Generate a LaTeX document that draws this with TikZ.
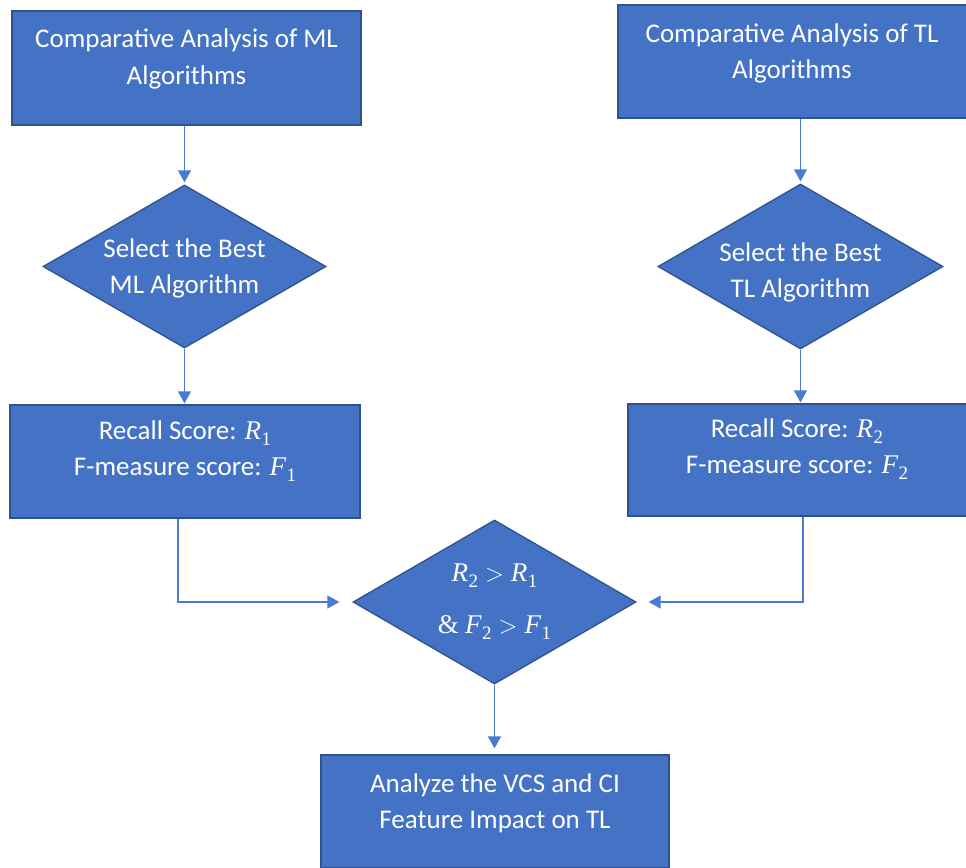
\documentclass[tikz,border=0pt]{standalone}
\usepackage{fontspec}
\setmainfont{Carlito}
\newfontfamily\mserif{Liberation Serif}
\usetikzlibrary{shapes.geometric,arrows.meta}

\definecolor{boxfill}{HTML}{4472C4}
\definecolor{boxline}{HTML}{2F528F}
\definecolor{connline}{HTML}{4A7BD0}

% italic variable with a lowered upright index
\newcommand{\mvar}[2]{{\mserif\itshape #1}\kern0.5pt\raisebox{-0.22em}{\mserif\fontsize{19}{19}\selectfont #2}}
\newcommand{\mgt}{\kern7pt$>$\kern7pt}

\begin{document}
\begin{tikzpicture}[x=1pt,y=-1pt,
  procbox/.style={rectangle, draw=boxline, fill=boxfill, line width=1.3pt, inner sep=0pt},
  decision/.style={diamond, draw=boxline, fill=boxfill, line width=1.3pt, inner sep=0pt},
  txt/.style={text=white, align=center, inner sep=0pt, font=\fontsize{27}{36.5}\selectfont},
  conn/.style={draw=connline, line width=1.3pt, -{Triangle[length=12pt,width=13pt]}}]

\useasboundingbox (0,0) rectangle (966,867);

% process boxes
\node[procbox, minimum width=349pt, minimum height=114pt] (b1) at (186.5,68) {};
\node[procbox, minimum width=350pt, minimum height=113pt] (b2) at (793,61.5) {};
\node[procbox, minimum width=350pt, minimum height=113pt] (b3) at (185,461.5) {};
\node[procbox, minimum width=340pt, minimum height=112pt] (b4) at (798,460) {};
\node[procbox, minimum width=348pt, minimum height=113pt] (b5) at (495,811.5) {};

% decisions
\node[decision, minimum width=283pt, minimum height=163pt] (d1) at (184.5,266.5) {};
\node[decision, minimum width=285pt, minimum height=165pt] (d2) at (800.5,266.5) {};
\node[decision, minimum width=283pt, minimum height=164pt] (d3) at (494.5,602) {};

% texts
\node[txt] (t1) at (186.5,59) {Comparative Analysis of ML\\Algorithms};
\node[txt] (t2) at (792,53.5) {Comparative Analysis of TL\\Algorithms};
\node[txt] (t3) at (184.5,268.5) {Select the Best\\ML Algorithm};
\node[txt] (t4) at (800.5,272.5) {Select the Best\\TL Algorithm};
\node[txt] (t5) at (185,451) {Recall Score: \mvar{R}{1}\\F-measure score: \mvar{F}{1}};
\node[txt] (t6) at (797,449) {Recall Score: \mvar{R}{2}\\F-measure score: \mvar{F}{2}};
\node[txt, font=\fontsize{27}{52}\selectfont] (t7) at (494.5,602)
  {\mvar{R}{2}\mgt\mvar{R}{1}\\{\mserif\&} \mvar{F}{2}\mgt\mvar{F}{1}};
\node[txt] (t8) at (495,803.5) {Analyze the VCS and CI\\Feature Impact on TL};

% connectors
\draw[conn, shorten >=2pt] (b1.south -| d1.north) -- (d1.north);
\draw[conn, shorten >=2pt] (b2.south -| d2.north) -- (d2.north);
\draw[conn, shorten >=1pt] (d1.south) -- (d1.south |- b3.north);
\draw[conn, shorten >=1pt] (d2.south) -- (d2.south |- b4.north);
\draw[conn, shorten >=13pt] ([xshift=-7pt]b3.south) |- (d3.west);
\draw[conn, shorten >=12pt] ([xshift=5pt]b4.south) |- (d3.east);
\draw[conn, shorten >=6pt] (d3.south) -- (d3.south |- b5.north);
\end{tikzpicture}
\end{document}
